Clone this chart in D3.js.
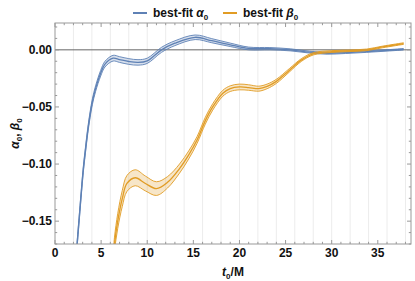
<!DOCTYPE html>
<html><head><meta charset="utf-8">
<script src="https://cdn.jsdelivr.net/npm/d3@7"></script>
<style>body{margin:0;background:#fff}svg{display:block}text{font-family:"Liberation Sans",Arial,sans-serif}</style>
</head><body>
<svg id="c" width="415" height="281"></svg>
<script>
const alphaT = [2.3, 2.6, 3.07, 3.3, 3.55, 3.8, 4.05, 4.4, 4.95, 5.42, 6.3, 7.0, 8.0, 9.0, 10.0, 11.55, 13.0, 15.2, 17.0, 19.0, 21.0, 23.3, 25.5, 27.6, 29.5, 31.5, 33.8, 36.0, 37.8];
const alphaV = [-0.18, -0.15, -0.1047, -0.088, -0.071, -0.057, -0.0455, -0.034, -0.0205, -0.0125, -0.0073, -0.0085, -0.0102, -0.011, -0.0096, 0.0, 0.0058, 0.011, 0.008, 0.0044, 0.0012, 0.001, 0.0, -0.002, -0.003, -0.0025, -0.0015, -0.0005, 0.0005];
const alphaErr = [0.0025, 0.0025, 0.0025, 0.0025, 0.0025, 0.0025, 0.0025, 0.0025, 0.0025, 0.0025, 0.0025, 0.0025, 0.0025, 0.0024, 0.0023, 0.0022, 0.0021, 0.002, 0.0018, 0.0015, 0.0012, 0.001, 0.0009, 0.0008, 0.0008, 0.0007, 0.0007, 0.0006, 0.0006];
const betaT = [6.3, 6.45, 6.8, 7.3, 7.8, 8.7, 9.8, 11.0, 12.2, 13.5, 14.5, 15.4, 16.3, 17.1, 18.2, 19.0, 20.0, 21.0, 22.1, 23.0, 24.0, 25.4, 26.7, 28.0, 30.0, 32.0, 33.8, 35.5, 37.8];
const betaV = [-0.185, -0.17, -0.15, -0.13, -0.117, -0.112, -0.117, -0.1215, -0.116, -0.104, -0.092, -0.079, -0.062, -0.05, -0.038, -0.034, -0.0325, -0.033, -0.034, -0.032, -0.0276, -0.018, -0.009, -0.0035, -0.0015, -0.0008, 0.0, 0.0025, 0.0055];
const betaErr = [0.006, 0.006, 0.0065, 0.007, 0.007, 0.007, 0.0065, 0.006, 0.005, 0.004, 0.0035, 0.003, 0.003, 0.0028, 0.0026, 0.0025, 0.0025, 0.0024, 0.0022, 0.002, 0.0018, 0.0015, 0.0012, 0.001, 0.0008, 0.0007, 0.0007, 0.0007, 0.0007];
const xTicks = [0, 5, 10, 15, 20, 25, 30, 35];
const yTicks = [0.00, -0.05, -0.10, -0.15];
const xGrid = d3.range(2, 39, 2);

const W = 415, H = 281;
const m = {l: 55, r: 4, t: 23, b: 37};
const svg = d3.select("#c");
const x = d3.scaleLinear().domain([0, 38.6]).range([m.l, W - m.r]);
const y = d3.scaleLinear().domain([-0.17, 0.0235]).range([H - m.b, m.t]);
const blue = "#5e81b5", orange = "#e19c24";

svg.append("defs").append("clipPath").attr("id", "clip")
  .append("rect").attr("x", m.l).attr("y", m.t).attr("width", W - m.l - m.r).attr("height", H - m.t - m.b);

// grid
svg.append("g").selectAll("line").data(xGrid).join("line")
  .attr("x1", d => x(d)).attr("x2", d => x(d)).attr("y1", m.t).attr("y2", H - m.b)
  .attr("stroke", "#ececec").attr("stroke-width", 1);

// zero line
svg.append("line").attr("x1", m.l).attr("x2", W - m.r).attr("y1", y(0)).attr("y2", y(0))
  .attr("stroke", "#666").attr("stroke-width", 1);

const g = svg.append("g").attr("clip-path", "url(#clip)");
function drawSeries(T, V, E, col) {
  const pts = T.map((t, i) => ({t, v: V[i], e: E[i]}));
  const curve = d3.curveCatmullRom.alpha(0.5);
  g.append("path").datum(pts)
    .attr("d", d3.area().x(d => x(d.t)).y0(d => y(d.v - d.e)).y1(d => y(d.v + d.e)).curve(curve))
    .attr("fill", col).attr("fill-opacity", 0.25);
  [-1, 1].forEach(s => {
    g.append("path").datum(pts)
      .attr("d", d3.line().x(d => x(d.t)).y(d => y(d.v + s * d.e)).curve(curve))
      .attr("fill", "none").attr("stroke", col).attr("stroke-width", 0.9);
  });
  g.append("path").datum(pts)
    .attr("d", d3.line().x(d => x(d.t)).y(d => y(d.v)).curve(curve))
    .attr("fill", "none").attr("stroke", col).attr("stroke-width", 1.3);
}
drawSeries(alphaT, alphaV, alphaErr, blue);
drawSeries(betaT, betaV, betaErr, orange);

// frame
const fc = "#999";
svg.append("rect").attr("x", m.l).attr("y", m.t).attr("width", W - m.l - m.r).attr("height", H - m.t - m.b)
  .attr("fill", "none").attr("stroke", fc).attr("stroke-width", 1);

// ticks
const tg = svg.append("g").attr("stroke", fc).attr("stroke-width", 1);
const xMinor = d3.range(0, 39, 1);
xMinor.forEach(t => {
  const major = t % 5 === 0;
  const L = major ? 4 : 2.2;
  tg.append("line").attr("x1", x(t)).attr("x2", x(t)).attr("y1", H - m.b).attr("y2", H - m.b - L);
  tg.append("line").attr("x1", x(t)).attr("x2", x(t)).attr("y1", m.t).attr("y2", m.t + L);
});
const yMinor = d3.range(-17, 3, 1).map(d => d / 100);
yMinor.forEach(v => {
  const major = Math.round(v * 100) % 5 === 0;
  const L = major ? 4 : 2.2;
  tg.append("line").attr("y1", y(v)).attr("y2", y(v)).attr("x1", m.l).attr("x2", m.l + L);
  tg.append("line").attr("y1", y(v)).attr("y2", y(v)).attr("x1", W - m.r).attr("x2", W - m.r - L);
});

// tick labels
const fmtY = d => (d < 0 ? "\u2212" : "") + Math.abs(d).toFixed(2);
svg.append("g").selectAll("text").data(xTicks).join("text")
  .attr("x", d => x(d)).attr("y", H - m.b + 13).attr("text-anchor", "middle")
  .attr("font-size", 12).attr("font-weight", "bold").attr("fill", "#111").text(d => d);
svg.append("g").selectAll("text").data(yTicks).join("text")
  .attr("x", m.l - 3).attr("y", d => y(d) + 4.2).attr("text-anchor", "end")
  .attr("font-size", 12).attr("font-weight", "bold").attr("fill", "#111").text(fmtY);

// axis labels
const xl = svg.append("text").attr("x", x(19.3)).attr("y", 276).attr("text-anchor", "middle")
  .attr("font-size", 12).attr("font-weight", "bold").attr("fill", "#111");
xl.append("tspan").attr("font-style", "italic").text("t");
xl.append("tspan").attr("font-size", 8).attr("dy", 3).text("0");
xl.append("tspan").attr("dy", -3).text("/M");

const yl = svg.append("text").attr("transform", `translate(19,${(m.t + H - m.b) / 2}) rotate(-90)`)
  .attr("text-anchor", "middle").attr("font-size", 12).attr("font-weight", "bold").attr("fill", "#111");
yl.append("tspan").attr("font-style", "italic").text("\u03b1");
yl.append("tspan").attr("font-size", 8).attr("dy", 3).text("0");
yl.append("tspan").attr("dy", -3).text(", ");
yl.append("tspan").attr("font-style", "italic").text("\u03b2");
yl.append("tspan").attr("font-size", 8).attr("dy", 3).text("0");

// legend
const legend = [{name: "\u03b1", col: blue, x0: 133}, {name: "\u03b2", col: orange, x0: 223}];
legend.forEach(L => {
  svg.append("line").attr("x1", L.x0).attr("x2", L.x0 + 14).attr("y1", 13).attr("y2", 13)
    .attr("stroke", L.col).attr("stroke-width", 2);
  const t = svg.append("text").attr("x", L.x0 + 20).attr("y", 17).attr("font-size", 12)
    .attr("font-weight", "bold").attr("fill", "#111");
  t.append("tspan").text("best-fit ");
  t.append("tspan").attr("font-style", "italic").text(L.name);
  t.append("tspan").attr("font-size", 8).attr("dy", 3).text("0");
});
</script>
</body></html>
